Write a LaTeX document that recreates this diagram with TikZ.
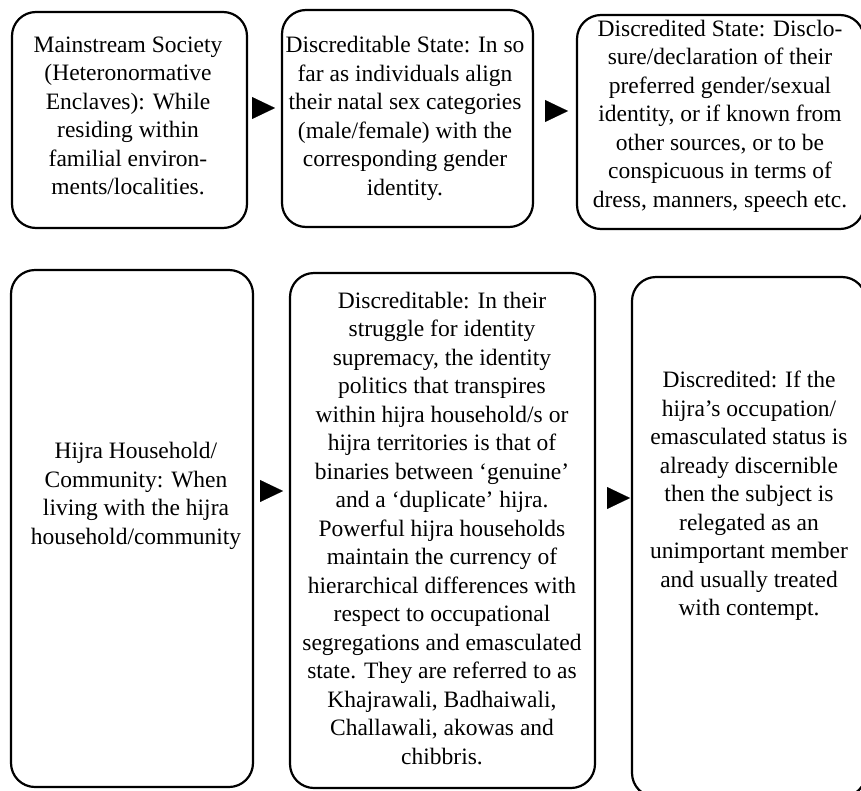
\documentclass[tikz,border=0pt]{standalone}
\usepackage{fontspec}
\setmainfont{Liberation Serif}
\usetikzlibrary{arrows.meta}
\begin{document}
\begin{tikzpicture}[x=1pt,y=-1pt,
  box/.style={draw=black, line width=2.2pt, rounded corners=24pt, outer sep=0pt, inner sep=0pt},
  txt/.style={align=center, font=\fontsize{23.5pt}{28.5pt}\selectfont, inner sep=0pt},
  tri/.style={line width=0.1pt, -{Triangle[length=23pt,width=22pt]}}]
\useasboundingbox (0,0) rectangle (861,790);
\clip (0,0) rectangle (861,790);
% boxes
\node[box, minimum width=235pt, minimum height=216pt] (b1) at (129.5,120) {};
\node[box, minimum width=251pt, minimum height=217pt] (b2) at (407.5,118.5) {};
\node[box, minimum width=287pt, minimum height=214pt] (b3) at (720.5,122) {};
\node[box, minimum width=242pt, minimum height=517pt] (b4) at (132,528.5) {};
\node[box, minimum width=305pt, minimum height=515pt] (b5) at (442.5,530.5) {};
\node[box, minimum width=234pt, minimum height=520pt] (b6) at (749,537) {};
% texts
\node[txt] (t1) at (128,116) {Mainstream Society\\(Heteronormative\\Enclaves): While\\residing within\\familial environ-\\ments/localities.};
\node[txt] (t2) at (405,118.5) {Discreditable State: In so\\far as individuals align\\their natal sex categories\\(male/female) with the\\corresponding gender\\identity.};
\node[txt] (t3) at (720,116) {Discredited State: Disclo-\\sure/declaration of their\\preferred gender/sexual\\identity, or if known from\\other sources, or to be\\conspicuous in terms of\\dress, manners, speech etc.};
\node[txt] (t4) at (136,496) {Hijra Household/\\Community: When\\living with the hijra\\household/community};
\node[txt] (t5) at (442,528.5) {Discreditable: In their\\struggle for identity\\supremacy, the identity\\politics that transpires\\within hijra household/s or\\hijra territories is that of\\binaries between ‘genuine’\\and a ‘duplicate’ hijra.\\Powerful hijra households\\maintain the currency of\\hierarchical differences with\\respect to occupational\\segregations and emasculated\\state. They are referred to as\\Khajrawali, Badhaiwali,\\Challawali, akowas and\\chibbris.};
\node[txt] (t6) at (749,496) {Discredited: If the\\hijra’s occupation/\\emasculated status is\\already discernible\\then the subject is\\relegated as an\\unimportant member\\and usually treated\\with contempt.};
% arrows
\draw[tri, shorten <=5pt, shorten >=7pt] (b1.east |- 0,108) -- (b2.west |- 0,108);
\draw[tri, shorten <=12pt, shorten >=9pt] (b2.east |- 0,111) -- (b3.west |- 0,111);
\draw[tri, shorten <=7pt, shorten >=7pt] (b4.east |- 0,491) -- (b5.west |- 0,491);
\draw[tri, shorten <=12pt, shorten >=2pt] (b5.east |- 0,498) -- (b6.west |- 0,498);
\end{tikzpicture}
\end{document}
